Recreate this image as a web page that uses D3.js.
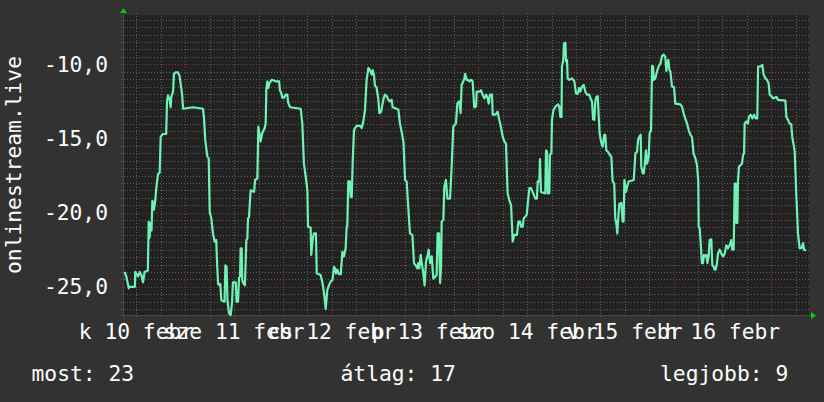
<!DOCTYPE html>
<html>
<head>
<meta charset="utf-8">
<script src="https://cdnjs.cloudflare.com/ajax/libs/d3/7.8.5/d3.min.js"></script>
<style>
  html, body { margin: 0; padding: 0; background: #323232; }
  svg { display: block; }
  text { font-family: "DejaVu Sans Mono", monospace; fill: #ffffff; }
</style>
</head>
<body>
<svg id="chart" width="824" height="402"></svg>
<script>
// hours counted from 2015-02-10 00:00, value = -rank
var hours = [
  9.1,9.5,10.1,10.3,11.6,11.7,12.4,12.8,13.2,13.6,14.0,14.8,15.0,15.2,15.5,15.7,15.9,16.3,16.6,16.9,17.3,17.7,17.95,18.5,19.3,19.5,19.75,20.15,20.4,20.55,21.0,21.2,21.55,22.2,22.6,22.85,23.2,23.45,25.9,28.35,28.6,28.9,29.4,29.75,30.0,30.4,30.8,31.2,31.6,31.85,32.05,32.45,32.6,32.85,33.65,33.85,34.15,34.35,34.75,35.15,35.5,35.7,36.15,
  36.4,36.6,36.95,37.2,37.45,37.6,37.85,38.0,38.25,38.65,39.0,39.25,39.4,39.65,40.05,40.9,41.15,41.7,41.95,42.2,42.5,42.9,43.5,43.75,43.9,44.15,44.4,44.65,45.2,46.2,47.05,47.25,47.6,47.85,48.25,48.65,49.05,49.3,49.75,52.35,52.75,53.15,53.6,54.0,54.15,54.8,54.95,55.3,55.6,56.1,56.3,57.25,57.65,58.1,58.5,58.9,59.3,59.7,60.15,60.55,60.8,61.05,61.35,61.75,62.2,62.6,63.0,63.4,63.65,63.8,64.05,64.45,64.65,
  64.9,65.15,65.45,65.7,66.1,66.95,67.35,67.75,68.15,68.55,69.0,69.4,69.8,70.05,70.35,70.6,71.0,71.45,71.7,72.1,72.65,73.05,73.5,73.9,74.3,74.7,74.95,76.35,76.75,77.15,77.6,78.0,78.4,78.8,79.2,79.8,80.2,80.6,81.0,81.25,81.5,81.85,82.1,82.5,82.8,83.15,83.55,83.8,84.15,84.55,84.95,85.75,86.0,86.35,86.6,86.85,87.0,87.4,87.65,88.05,88.4,89.05,89.45,89.85,90.5,90.85,91.35,91.65,91.9,92.55,92.75,93.15,
  93.4,93.8,94.2,94.6,95.0,95.45,95.6,96.25,96.65,97.05,97.5,97.9,98.3,98.55,98.85,99.35,99.55,100.2,100.75,101.15,101.6,102.0,102.4,102.8,103.2,103.6,104.05,104.45,104.85,105.5,105.85,106.25,106.5,106.9,107.15,107.9,108.15,108.55,108.95,109.35,110.0,110.4,110.6,111.0,111.15,111.4,112.45,112.65,112.9,113.05,113.45,113.6,113.95,114.1,114.45,114.95,115.6,115.9,116.15,116.45,116.55,116.9,117.05,117.4,117.55,117.8,117.95,118.35,119.0,119.6,120.0,120.4,120.8,121.05,121.5,
  121.9,122.3,122.7,123.3,123.55,123.95,124.2,124.5,124.75,125.0,125.35,125.55,125.8,126.15,126.55,126.95,127.2,127.45,127.85,128.3,128.7,129.0,129.4,129.65,129.9,130.15,130.3,130.65,131.15,131.45,131.7,131.9,132.3,132.55,132.95,134.2,134.6,135.0,135.25,135.55,135.9,136.05,136.4,136.65,136.9,137.2,137.45,137.85,138.1,138.45,138.7,138.95,139.1,139.5,139.9,140.3,140.75,141.15,141.55,141.95,142.2,142.45,142.7,142.95,143.2,143.6,144.1,144.4,145.65,146.05,146.45,146.85,147.3,147.7,148.1,148.5,148.9,149.35,149.75,150.05,150.15,
  150.4,150.65,150.95,151.2,151.45,151.8,152.05,152.3,152.6,152.85,153.25,153.5,153.85,154.1,154.3,154.65,154.9,155.3,155.7,156.15,156.55,156.95,157.35,157.75,158.15,158.4,158.75,159.0,159.25,159.4,159.65,159.8,160.05,160.8,161.05,161.3,161.45,161.85,162.25,162.5,162.9,163.35,163.75,164.15,164.55,164.75,165.4,165.8,166.1,166.55,166.95,167.35,167.6,168.0,168.4,169.25,169.65,171.45,171.7,172.1,172.5,172.9,173.15,173.55,173.75,174.15,174.55,174.95,175.4,175.8,176.05,176.6
];
var rank = [
  -24.0,-24.3,-25.1,-25.0,-25.0,-24.0,-24.3,-24.0,-24.2,-24.7,-24.0,-23.9,-20.6,-21.7,-20.7,-21.2,-19.2,-19.8,-19.2,-18.3,-17.4,-17.3,-14.9,-14.7,-14.7,-12.5,-12.1,-12.4,-12.9,-12.2,-11.85,-10.65,-10.55,-10.55,-10.8,-11.3,-12.0,-13.0,-12.9,-13.0,-13.65,-15.1,-16.2,-16.35,-19.95,-20.4,-21.4,-21.95,-21.85,-23.65,-24.8,-24.9,-24.8,-25.9,-26.0,-23.55,-23.65,-25.9,-26.8,-26.9,-26.0,-24.7,-24.7,
  -24.7,-26.0,-26.0,-24.4,-24.3,-22.4,-22.4,-24.55,-24.75,-24.9,-21.85,-21.75,-20.4,-20.3,-18.5,-18.6,-17.8,-17.7,-14.2,-14.65,-15.2,-14.65,-14.3,-14.0,-11.75,-11.15,-11.6,-11.3,-11.05,-11.15,-11.15,-11.75,-11.95,-12.25,-12.25,-12.05,-12.05,-12.6,-12.9,-13.0,-14.0,-16.7,-17.6,-18.5,-20.95,-21.0,-22.85,-21.75,-21.4,-21.4,-24.1,-24.2,-24.65,-25.45,-26.5,-25.2,-24.9,-24.65,-24.55,-23.65,-23.75,-24.1,-23.85,-24.15,-24.15,-22.65,-22.95,-22.4,-20.95,-20.95,-17.9,-17.9,-18.95,
  -18.95,-16.45,-14.45,-14.3,-14.15,-14.15,-14.3,-13.85,-13.1,-11.05,-10.25,-10.4,-10.7,-10.4,-10.7,-11.45,-11.55,-12.4,-13.3,-13.2,-12.4,-12.05,-12.15,-12.4,-12.5,-12.4,-12.9,-13.05,-14.0,-14.55,-15.2,-17.8,-17.9,-19.7,-21.4,-21.5,-23.4,-23.55,-23.75,-23.4,-23.75,-22.85,-23.4,-24.1,-24.9,-23.3,-22.85,-22.5,-23.4,-22.95,-24.45,-24.2,-21.4,-21.4,-24.75,-23.65,-20.6,-20.5,-18.25,-17.8,-19.05,-19.05,-16.9,-14.2,-14.0,-12.65,-12.5,-13.3,-11.4,-11.0,-10.65,-11.05,
  -11.05,-11.15,-11.05,-11.15,-12.9,-12.85,-11.85,-11.85,-11.75,-12.05,-12.3,-12.05,-12.3,-12.65,-12.05,-12.05,-13.4,-13.4,-13.2,-13.75,-14.3,-14.9,-15.2,-15.35,-18.7,-19.15,-19.5,-21.95,-21.5,-21.5,-20.6,-20.6,-20.95,-20.95,-20.4,-20.15,-19.4,-18.35,-18.35,-18.6,-19.05,-19.05,-17.9,-17.9,-16.4,-18.6,-18.7,-15.8,-15.9,-18.7,-18.7,-16.1,-16.0,-13.75,-13.1,-12.85,-12.7,-12.85,-13.55,-13.55,-10.15,-9.7,-8.6,-8.55,-9.8,-9.7,-10.95,-11.05,-10.95,-11.15,-11.95,-12.0,-11.6,-11.85,-11.5,
  -11.4,-11.85,-12.05,-12.05,-12.3,-12.5,-13.7,-13.75,-12.5,-12.2,-12.15,-13.3,-14.65,-15.2,-15.55,-14.75,-14.75,-15.8,-15.9,-16.1,-16.25,-17.9,-18.05,-20.4,-20.7,-21.4,-20.7,-19.4,-19.35,-20.6,-20.6,-17.8,-18.6,-18.25,-17.9,-17.8,-16.0,-15.9,-15.1,-14.9,-14.75,-16.9,-17.35,-17.35,-16.8,-15.8,-16.7,-16.25,-14.65,-14.45,-10.1,-10.15,-11.05,-10.95,-10.5,-10.15,-9.95,-9.45,-9.35,-9.5,-10.45,-9.95,-9.7,-10.4,-10.5,-11.5,-11.55,-12.65,-12.7,-12.85,-13.3,-13.65,-14.0,-14.45,-14.75,-14.9,-16.0,-16.35,-16.8,-17.9,-20.95,
  -21.05,-22.05,-23.4,-23.4,-22.85,-22.95,-22.85,-23.4,-22.95,-21.85,-21.8,-23.55,-23.65,-23.85,-23.85,-23.4,-22.75,-22.5,-22.75,-22.95,-22.75,-22.2,-22.4,-22.2,-21.85,-22.5,-22.5,-18.05,-18.05,-20.7,-20.7,-17.9,-16.9,-16.7,-16.1,-16.0,-14.0,-13.85,-14.0,-13.55,-13.4,-13.65,-13.4,-13.65,-13.65,-10.15,-10.15,-10.05,-10.7,-10.95,-11.05,-11.3,-12.05,-12.15,-12.3,-12.2,-12.4,-12.45,-13.55,-13.75,-14.0,-14.05,-14.9,-15.55,-15.9,-18.9,-21.4,-22.4,-22.4,-22.05,-22.5,-22.55
];

var yTicks = [-25, -20, -15, -10];
var dayLabels = ["k 10 febr", "sze 11 febr", "cs 12 febr", "p 13 febr", "szo 14 febr", "v 15 febr", "h 16 febr"];
var yTitle = "onlinestream.live";
var legendItems = ["most: 23", "átlag: 17", "legjobb: 9"];

var svg = d3.select("#chart");
var W = 824, H = 402;
var plot = { left: 123, top: 15, right: 809, bottom: 315 };
var fontSize = "21.3px";

var base = new Date(2015, 1, 10, 0, 0);
function hourDate(h) { return new Date(base.getTime() + h * 3600000); }

var x = d3.scaleTime()
    .domain([hourDate(8.69), hourDate(177.26)])
    .range([plot.left, plot.right]);
var y = d3.scaleLinear()
    .domain([-26.9, -6.68])
    .range([plot.bottom, plot.top]);

var huLocale = d3.formatLocale({ decimal: ",", thousands: " ", grouping: [3], currency: ["", ""], minus: "-" });
var fmt = huLocale.format(".1f");

svg.append("rect").attr("width", W).attr("height", H).attr("fill", "#323232");
svg.append("rect")
    .attr("x", plot.left).attr("y", plot.top)
    .attr("width", plot.right - plot.left).attr("height", plot.bottom - plot.top)
    .attr("fill", "#222222");

// grid
var minorY = d3.range(-26.5, -6.6, 0.5);
svg.append("g").selectAll("line").data(minorY).enter().append("line")
    .attr("x1", plot.left - 2).attr("x2", plot.right + 2)
    .attr("y1", function(d) { return Math.round(y(d)) + 0.5; })
    .attr("y2", function(d) { return Math.round(y(d)) + 0.5; })
    .attr("stroke", function(d) { return d % 5 === 0 ? "#8a3a3a" : "#5e5e5e"; })
    .attr("stroke-width", 1)
    .attr("stroke-dasharray", "1,2");

var vLines = d3.timeHour.every(6).range(x.domain()[0], x.domain()[1]);
svg.append("g").selectAll("line").data(vLines).enter().append("line")
    .attr("x1", function(d) { return Math.round(x(d)) + 0.5; })
    .attr("x2", function(d) { return Math.round(x(d)) + 0.5; })
    .attr("y1", plot.top - 2).attr("y2", plot.bottom + 2)
    .attr("stroke", function(d) { return d.getHours() === 0 ? "#8a3a3a" : "#5e5e5e"; })
    .attr("stroke-width", 1)
    .attr("stroke-dasharray", "1,2");

// axes
svg.append("line")
    .attr("x1", plot.left - 3).attr("x2", plot.right + 3)
    .attr("y1", plot.bottom + 0.5).attr("y2", plot.bottom + 0.5)
    .attr("stroke", "#4a4a4a").attr("stroke-width", 1);
svg.append("line")
    .attr("x1", plot.left + 0.5).attr("x2", plot.left + 0.5)
    .attr("y1", plot.bottom + 3).attr("y2", plot.top - 3)
    .attr("stroke", "#4a4a4a").attr("stroke-width", 1);
svg.append("path")
    .attr("d", "M" + (plot.right + 2) + "," + (plot.bottom - 3) + "L" + (plot.right + 7) + "," + (plot.bottom + 0.5) + "L" + (plot.right + 2) + "," + (plot.bottom + 4) + "Z")
    .attr("fill", "#00d000");
svg.append("path")
    .attr("d", "M" + (plot.left - 3) + "," + (plot.top - 2) + "L" + (plot.left + 0.5) + "," + (plot.top - 7) + "L" + (plot.left + 4) + "," + (plot.top - 2) + "Z")
    .attr("fill", "#00d000");

// series
var points = d3.range(Math.min(hours.length, rank.length)).map(function(i) {
  return { t: hourDate(hours[i]), v: rank[i] };
});
var line = d3.line()
    .x(function(d) { return x(d.t); })
    .y(function(d) { return y(d.v); });
svg.append("path")
    .datum(points)
    .attr("d", line)
    .attr("fill", "none")
    .attr("stroke", "#6ff2b4")
    .attr("stroke-width", 2.2)
    .attr("stroke-linejoin", "round");

// y tick labels
svg.append("g").selectAll("text").data(yTicks).enter().append("text")
    .attr("x", 108)
    .attr("y", function(d) { return y(d); })
    .attr("dy", "0.36em")
    .attr("text-anchor", "end")
    .style("font-size", fontSize)
    .text(function(d) { return fmt(d); });

// x labels at noon of each day
svg.append("g").selectAll("text").data(dayLabels).enter().append("text")
    .attr("x", function(d, i) { return x(hourDate(12 + i * 24)); })
    .attr("y", 338.5)
    .attr("text-anchor", "middle")
    .style("font-size", fontSize)
    .text(function(d) { return d; });

svg.append("text")
    .attr("transform", "translate(20.5," + ((plot.top + plot.bottom) / 2) + ") rotate(-90)")
    .attr("text-anchor", "middle")
    .style("font-size", fontSize)
    .text(yTitle);

var legendX = [31.5, 340.5, 660];
svg.append("g").selectAll("text").data(legendItems).enter().append("text")
    .attr("x", function(d, i) { return legendX[i]; })
    .attr("y", 381)
    .style("font-size", fontSize)
    .text(function(d) { return d; });
</script>
</body>
</html>
